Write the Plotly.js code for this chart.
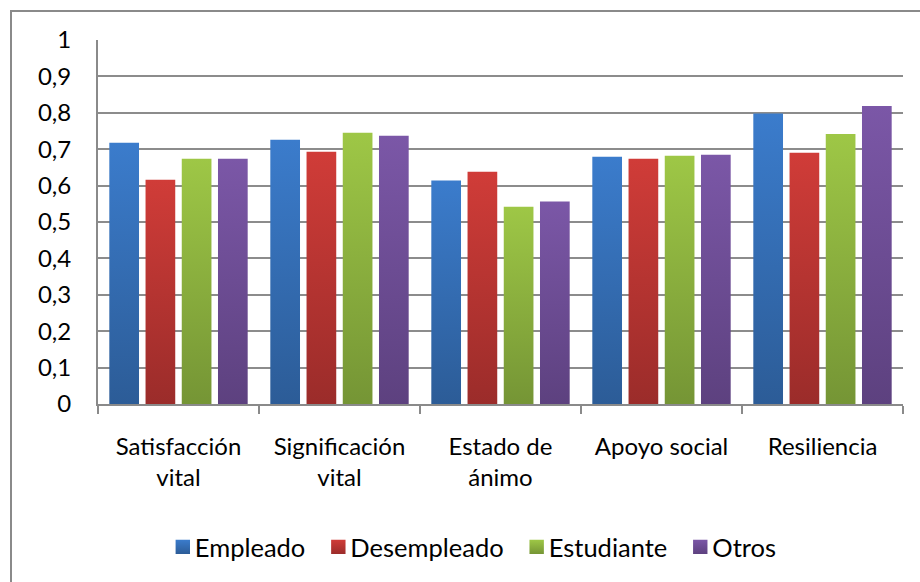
<!DOCTYPE html>
<html>
<head>
<meta charset="utf-8">
<script src="https://cdn.plot.ly/plotly-3.0.1.min.js"></script>
<style>
  html, body { margin: 0; padding: 0; background: #fff; }
  #frame { position: absolute; left: 10px; top: 10px; width: 1000px; height: 1000px;
           border-left: 2px solid #8a8a8a; border-top: 2px solid #8a8a8a; }
  #chart { position: absolute; left: 0; top: 0; width: 920px; height: 582px; }
</style>
</head>
<body>
<div id="frame"></div>
<div id="chart"></div>
<script>
const categories = ["Satisfacción<br>vital", "Significación<br>vital", "Estado de<br>ánimo", "Apoyo social", "Resiliencia"];
const seriesNames = ["Empleado", "Desempleado", "Estudiante", "Otros"];
const empleado    = [0.718, 0.726, 0.614, 0.679, 0.798];
const desempleado = [0.616, 0.693, 0.638, 0.674, 0.690];
const estudiante  = [0.674, 0.745, 0.542, 0.682, 0.742];
const otros       = [0.674, 0.737, 0.556, 0.685, 0.819];
const yTickVals   = [0, 0.1, 0.2, 0.3, 0.4, 0.5, 0.6, 0.7, 0.8, 0.9, 1];
const yTickText   = ["0", "0,1", "0,2", "0,3", "0,4", "0,5", "0,6", "0,7", "0,8", "0,9", "1"];

const colors = ["#3473c2", "#c23a36", "#8fb43f", "#6f4e98"];
const gradTop = ["#3b7ccc", "#d03c38", "#9ec746", "#7b57a7"];
const gradBot = ["#2c5c97", "#9b2c2a", "#759535", "#5d417f"];
const values = [empleado, desempleado, estudiante, otros];

const traces = seriesNames.map((n, i) => ({
  type: "bar",
  name: n,
  x: categories,
  y: values[i],
  marker: { color: colors[i], line: { width: 0 } },
  hoverinfo: "skip"
}));

const font = { family: "Lato, 'Open Sans', sans-serif", size: 24, color: "#000" };
const legendFont = { family: "Lato, 'Open Sans', sans-serif", size: 25.5, color: "#000" };

const layout = {
  width: 920, height: 582,
  margin: { l: 98, r: 17, t: 40, b: 177 },
  paper_bgcolor: "rgba(0,0,0,0)",
  plot_bgcolor: "rgba(0,0,0,0)",
  font: font,
  barmode: "group",
  bargap: 0.1,
  bargroupgap: 0.18,
  showlegend: true,
  legend: {
    orientation: "h", x: 0.46, xanchor: "center", y: -0.39, yanchor: "middle",
    font: legendFont, itemsizing: "constant", traceorder: "normal", itemwidth: 30
  },
  xaxis: {
    type: "category",
    showline: true, linecolor: "#8a8a8a", linewidth: 2,
    ticks: "outside", tickson: "boundaries", ticklen: 8, tickcolor: "#8a8a8a", tickwidth: 2,
    showgrid: false, tickfont: font, fixedrange: true,
    ticklabelstandoff: 20
  },
  yaxis: {
    range: [0, 1],
    tickvals: yTickVals, ticktext: yTickText,
    showline: true, linecolor: "#8a8a8a", linewidth: 2,
    showgrid: true, gridcolor: "#8c8c8c", gridwidth: 2,
    zeroline: false, ticks: "", tickfont: font,
    ticklabelstandoff: 20, fixedrange: true
  }
};

Plotly.newPlot("chart", traces, layout, { displayModeBar: false, staticPlot: true }).then(gd => {
  const svg = gd.querySelector("svg.main-svg");
  const ns = "http://www.w3.org/2000/svg";
  let defs = svg.querySelector("defs");
  if (!defs) { defs = document.createElementNS(ns, "defs"); svg.insertBefore(defs, svg.firstChild); }
  for (let i = 0; i < 4; i++) {
    const g = document.createElementNS(ns, "linearGradient");
    g.setAttribute("id", "bg" + i);
    g.setAttribute("x1", "0"); g.setAttribute("y1", "0");
    g.setAttribute("x2", "0"); g.setAttribute("y2", "1");
    const s1 = document.createElementNS(ns, "stop");
    s1.setAttribute("offset", "0"); s1.setAttribute("stop-color", gradTop[i]);
    const s2 = document.createElementNS(ns, "stop");
    s2.setAttribute("offset", "1"); s2.setAttribute("stop-color", gradBot[i]);
    g.appendChild(s1); g.appendChild(s2);
    defs.appendChild(g);
  }
  const tr = gd.querySelectorAll(".barlayer .trace");
  tr.forEach((t, i) => {
    t.querySelectorAll(".point path").forEach(p => { p.style.fill = "url(#bg" + i + ")"; });
  });
  const leg = gd.querySelectorAll(".legend .traces");
  leg.forEach((t, i) => {
    t.querySelectorAll(".legendpoints path").forEach(p => {
      p.style.fill = "url(#bg" + i + ")";
      const t0 = p.getAttribute("transform") || "";
      p.setAttribute("transform", t0 + " translate(8,0) scale(1.2)");
    });
  });
});
</script>
</body>
</html>
